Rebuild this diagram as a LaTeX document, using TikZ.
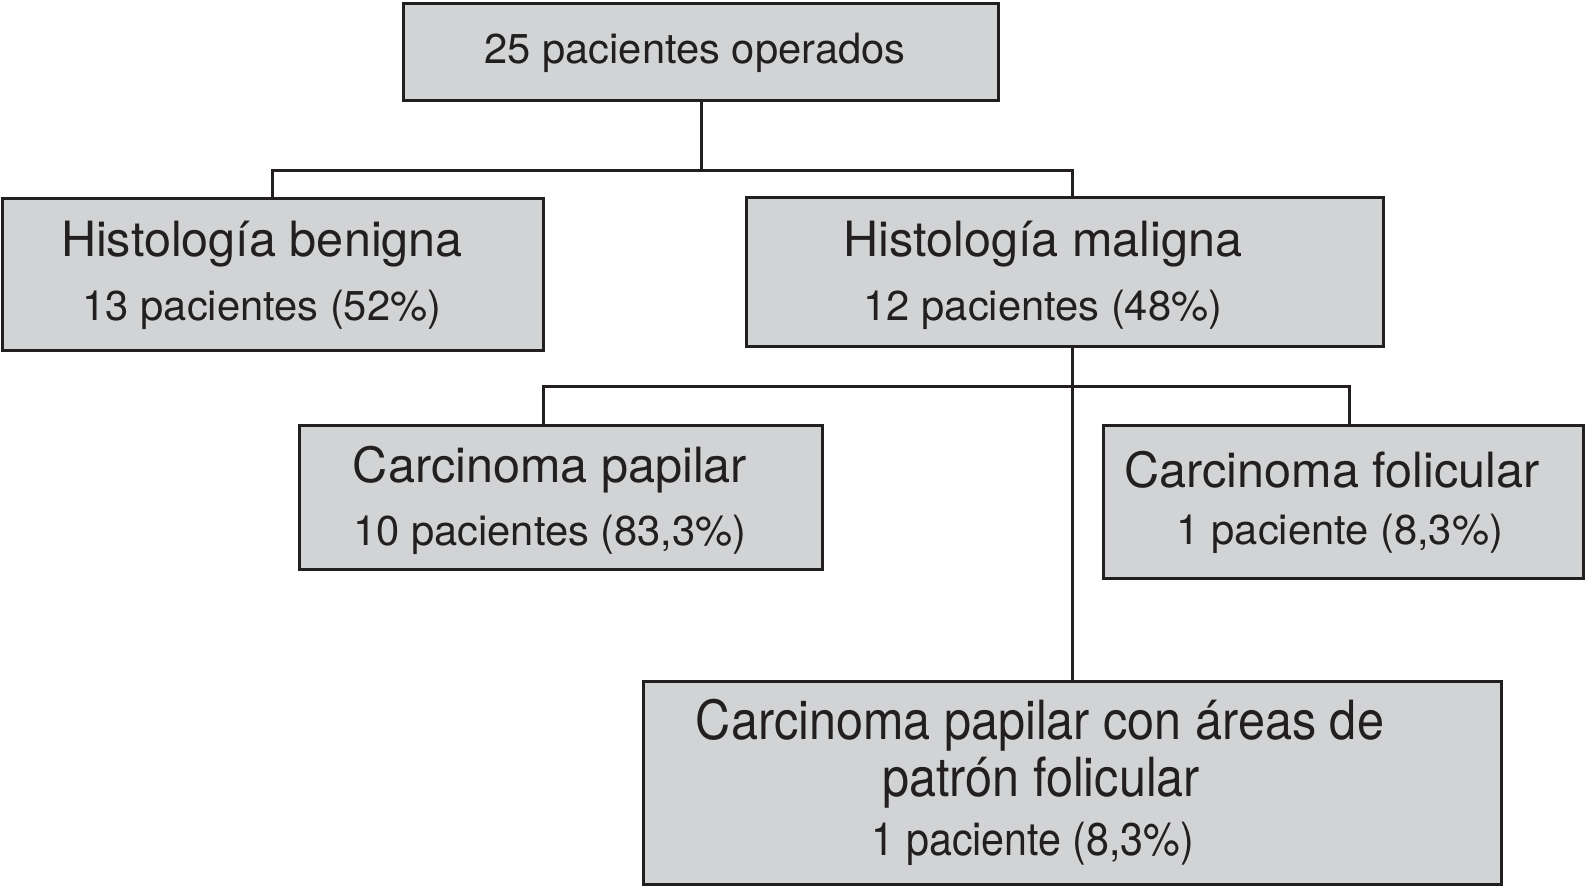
\documentclass[tikz,border=0pt]{standalone}
\usepackage{fontspec}
\setmainfont{TeX Gyre Heros}
\newfontfamily\condfont[FakeStretch=0.9]{TeX Gyre Heros}
\definecolor{boxfill}{HTML}{D1D3D4}
\definecolor{ink}{HTML}{231F20}
\tikzset{
  box/.style={draw=ink, fill=boxfill, line width=3pt, rectangle, inner sep=0pt},
  conn/.style={draw=ink, line width=3pt},
  big/.style={text=ink, anchor=base, inner sep=0pt, font=\fontsize{48.6}{58}\selectfont},
  small/.style={text=ink, anchor=base, inner sep=0pt, font=\fontsize{41.7}{50}\selectfont},
  cbig/.style={text=ink, anchor=base, inner sep=0pt, font=\condfont\fontsize{54}{64}\selectfont},
  csmall/.style={text=ink, anchor=base, inner sep=0pt, font=\condfont\fontsize{45.8}{54}\selectfont},
}
\begin{document}
\begin{tikzpicture}[x=1pt, y=-1pt]
\useasboundingbox (0,0) rectangle (1586,886);
% boxes
\node[box, minimum width=595pt, minimum height=97pt] (top) at (701,51.5) {};
\node[box, minimum width=541pt, minimum height=152pt] (benign) at (273,274) {};
\node[box, minimum width=637pt, minimum height=149pt] (maligna) at (1064.5,271.5) {};
\node[box, minimum width=523pt, minimum height=144pt] (papilar) at (560.5,497) {};
\node[box, minimum width=480pt, minimum height=153pt] (folicular) at (1343,501.5) {};
\node[box, minimum width=858pt, minimum height=203pt] (bottom) at (1072.5,783) {};
% texts
\node[small] (t0) at (695,63) {25 pacientes operados};
\node[big] (t1a) at (262,256) {Histología benigna};
\node[small] (t1b) at (262,320) {13 pacientes (52\%)};
\node[big] (t2a) at (1043,256) {Histología maligna};
\node[small] (t2b) at (1043,320) {12 pacientes (48\%)};
\node[big] (t3a) at (550,482.5) {Carcinoma papilar};
\node[small] (t3b) at (550,545) {10 pacientes (83,3\%)};
\node[big] (t4a) at (1332,487) {Carcinoma folicular};
\node[small] (t4b) at (1340,544) {1 paciente (8,3\%)};
\node[cbig] (t5a) at (1040,739) {Carcinoma papilar con áreas de};
\node[cbig] (t5b) at (1041,796) {patrón folicular};
\node[csmall] (t5c) at (1033,855) {1 paciente (8,3\%)};
% connectors
\coordinate (j1) at (701,170);
\coordinate (jl) at (272,170);
\coordinate (jr) at (1072,170);
\draw[conn] (top.south) -- (j1);
\draw[conn] (benign.north -| jl) -- (jl) -- (jr) -- (jr |- maligna.north);
\coordinate (ms) at (1072,346);
\coordinate (j2) at (1072,386);
\coordinate (pl) at (543,386);
\coordinate (fr) at (1349,386);
\draw[conn] (pl |- papilar.north) -- (pl) -- (fr) -- (fr |- folicular.north);
\draw[conn] (ms) -- (j2) -- (j2 |- bottom.north);
\end{tikzpicture}
\end{document}
